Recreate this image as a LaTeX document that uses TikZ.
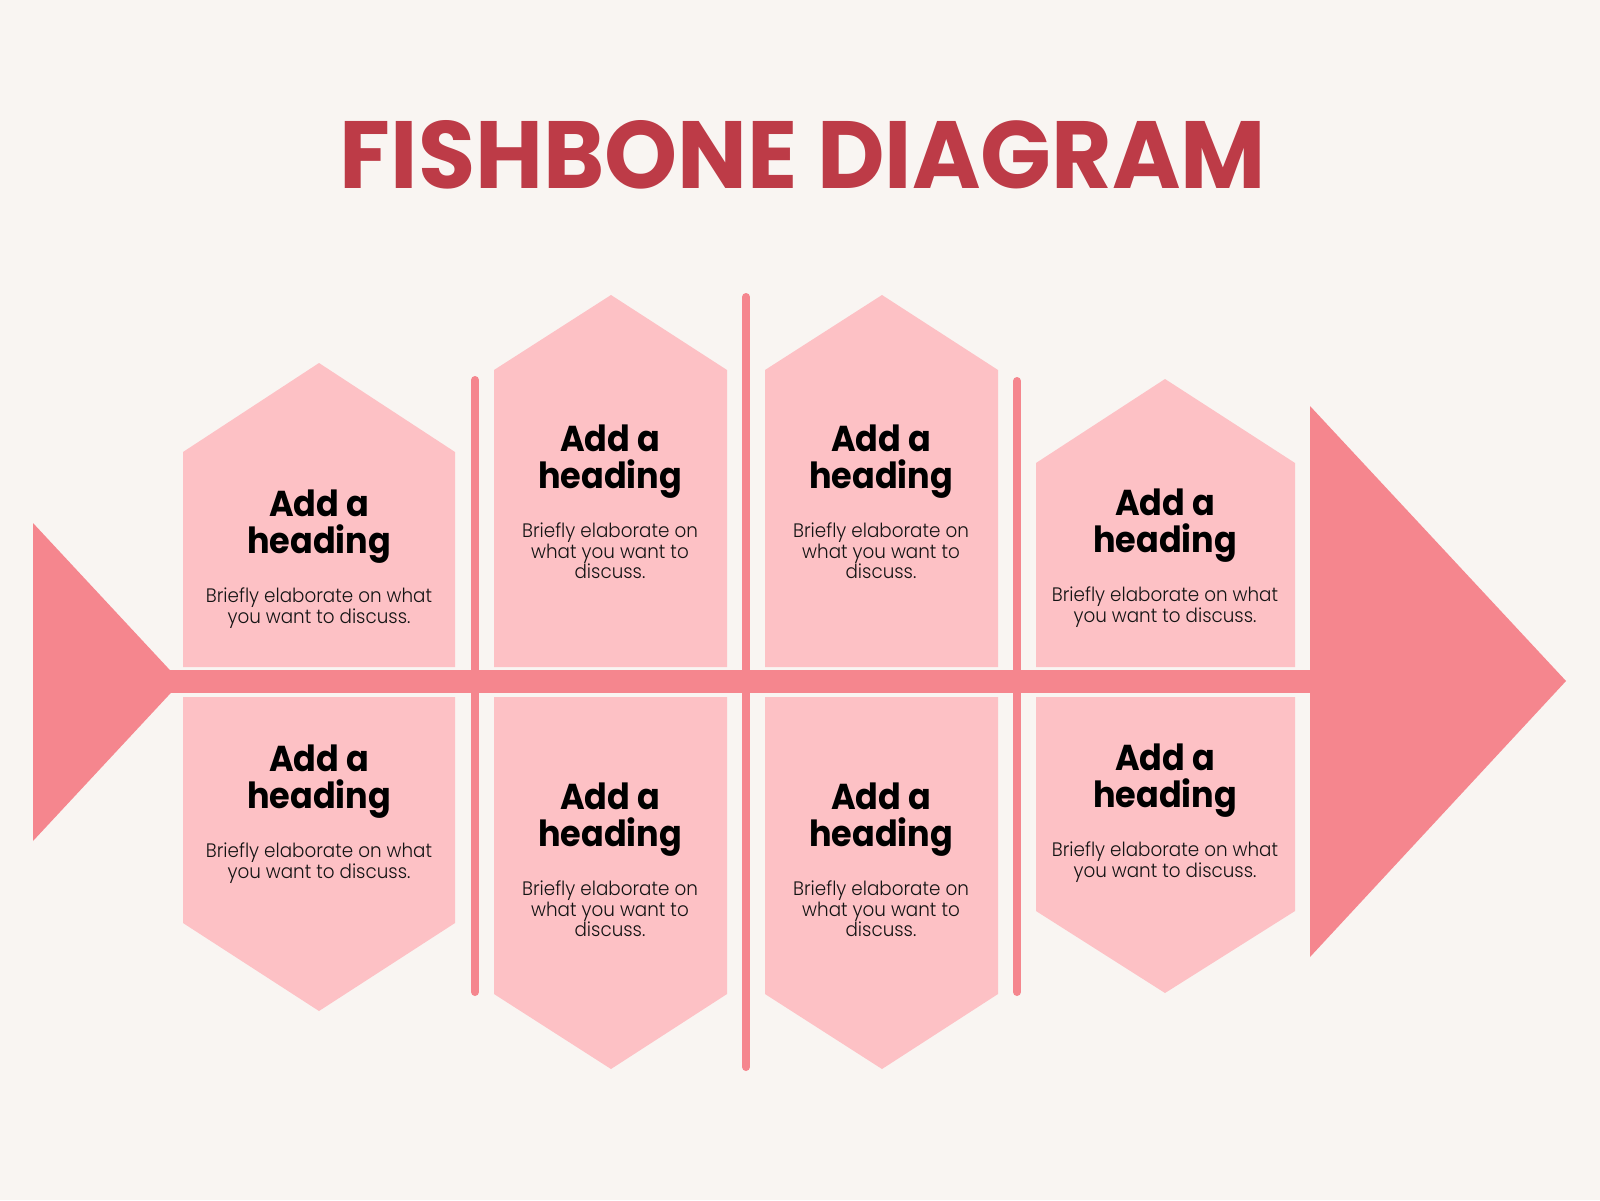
\documentclass[tikz,border=0pt]{standalone}
\usepackage{fontspec}
\setmainfont{Poppins}
\newfontfamily\titlefont{Poppins}
\newfontfamily\headfont[FakeStretch=0.93]{Poppins}
\newfontfamily\bodyfont[FakeStretch=0.94]{Poppins Light}
\definecolor{bgc}{HTML}{F9F5F2}
\definecolor{cardc}{HTML}{FDC1C5}
\definecolor{bonec}{HTML}{F5868E}
\definecolor{titlec}{HTML}{BD3B47}
\definecolor{bodyc}{HTML}{141414}
\tikzset{
  card/.style={fill=cardc, draw=none},
  bonefill/.style={fill=bonec, draw=none},
  bonestroke/.style={draw=bonec, line width=8pt, line cap=round},
  headtext/.style={anchor=base, inner sep=0pt, text=black, font=\headfont\bfseries\fontsize{36}{36}\selectfont},
  bodytext/.style={anchor=base, inner sep=0pt, text=bodyc, font=\bodyfont\fontsize{19.5}{20}\selectfont},
}
\newcommand\cardtext[4]{%
  \node[headtext] (#1-h1) at (#2,#3) {Add a};
  \node[headtext] (#1-h2) at (#2,#3+37) {heading};
  \foreach \ln [count=\i] in {#4} {
    \node[bodytext] (#1-b\i) at (#2,#3+66+20.5*\i) {\ln};
  }
}
\begin{document}
\begin{tikzpicture}[x=1pt,y=-1pt]
\fill[bgc] (0,0) rectangle (1600,1200);
\useasboundingbox (0,0) rectangle (1600,1200);

% title
\node[anchor=base, inner sep=0pt, text=titlec] (title) at (803,188)
  {\resizebox{926pt}{68pt}{\titlefont\bfseries FISHBONE DIAGRAM}};

% tail, spine, head
\fill[bonefill] (33,523) -- (181,682) -- (33,841) -- cycle;
\fill[bonefill] (170,670) rectangle (1312,693);
\fill[bonefill] (1310,406) -- (1566,681) -- (1310,957) -- cycle;

% vertical bones
\coordinate (b1t) at (475,380); \coordinate (b1b) at (475,992);
\coordinate (b2t) at (746,297); \coordinate (b2b) at (746,1067);
\coordinate (b3t) at (1017,381); \coordinate (b3b) at (1017,992);
\draw[bonestroke] (b1t) -- (b1b);
\draw[bonestroke] (b2t) -- (b2b);
\draw[bonestroke] (b3t) -- (b3b);

% upper cards
\fill[card] (183,667) -- (183,452) -- (319,363) -- (455,452) -- (455,667) -- cycle;
\fill[card] (494,667) -- (494,370) -- (611,295) -- (727,370) -- (727,667) -- cycle;
\fill[card] (765,667) -- (765,370) -- (882,295) -- (998,370) -- (998,667) -- cycle;
\fill[card] (1036,667) -- (1036,463) -- (1165,379) -- (1295,463) -- (1295,667) -- cycle;

% lower cards
\fill[card] (183,697) -- (183,923) -- (319,1011) -- (455,923) -- (455,697) -- cycle;
\fill[card] (494,697) -- (494,994) -- (611,1069) -- (727,994) -- (727,697) -- cycle;
\fill[card] (765,697) -- (765,994) -- (882,1069) -- (998,994) -- (998,697) -- cycle;
\fill[card] (1036,697) -- (1036,911) -- (1165,993) -- (1295,911) -- (1295,697) -- cycle;

% texts
\cardtext{u1}{319}{516}{Briefly elaborate on what,you want to discuss.}
\cardtext{u2}{610}{451}{Briefly elaborate on,what you want to,discuss.}
\cardtext{u3}{881}{451}{Briefly elaborate on,what you want to,discuss.}
\cardtext{u4}{1165}{515}{Briefly elaborate on what,you want to discuss.}
\cardtext{l1}{319}{771}{Briefly elaborate on what,you want to discuss.}
\cardtext{l2}{610}{809}{Briefly elaborate on,what you want to,discuss.}
\cardtext{l3}{881}{809}{Briefly elaborate on,what you want to,discuss.}
\cardtext{l4}{1165}{770}{Briefly elaborate on what,you want to discuss.}
\end{tikzpicture}
\end{document}
